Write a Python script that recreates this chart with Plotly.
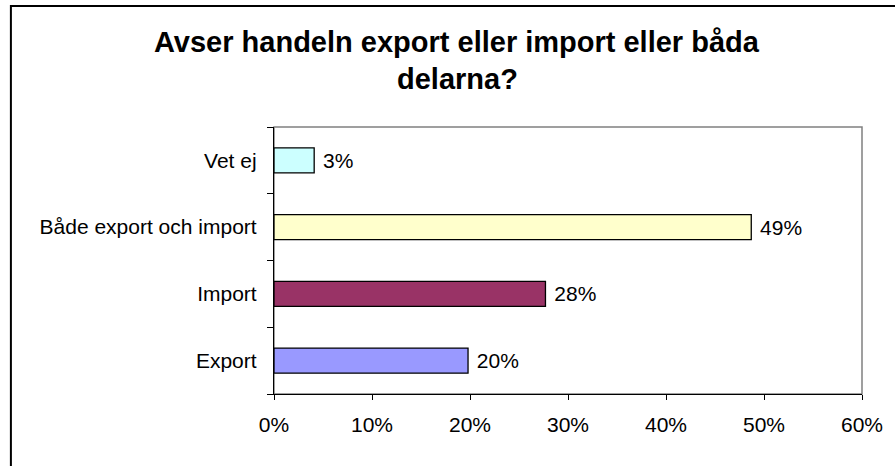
import plotly.graph_objects as go

categories = ["Export", "Import", "Både export och import", "Vet ej"]
values = [19.8, 27.7, 48.7, 4.1]
value_labels = ["20%", "28%", "49%", "3%"]
colors = ["#9999FF", "#993366", "#FFFFCC", "#CCFFFF"]
x_ticks = [0, 10, 20, 30, 40, 50, 60]
x_tick_labels = [f"{v}%" for v in x_ticks]
title_lines = ["Avser handeln export eller import eller båda", "delarna?"]

W, H = 895, 466
L, R, T, B = 274, 31, 127, 72
pw, ph = W - L - R, H - T - B
FONT = "Liberation Sans, Arial"

fig = go.Figure(go.Bar(
    y=categories, x=values, orientation="h",
    marker=dict(color=colors, line=dict(color="black", width=1.3)),
    text=[" " + t for t in value_labels], textposition="outside",
    textfont=dict(family=FONT, size=21, color="black"),
    cliponaxis=False, hoverinfo="skip",
))

def px_x(p):
    return (p - L) / pw

def px_y(p):
    return (H - B - p) / ph

annotations = [
    dict(text=f"<b>{line}</b>", xref="paper", yref="paper",
         x=px_x(458), y=px_y(yc), xanchor="center", yanchor="middle",
         showarrow=False, font=dict(family=FONT, size=29, color="black"))
    for line, yc in zip(title_lines, [42, 79])
]

fig.update_layout(
    width=W, height=H,
    margin=dict(l=L, r=R, t=T, b=B),
    paper_bgcolor="white", plot_bgcolor="white",
    showlegend=False, bargap=0.625,
    font=dict(family=FONT, size=21, color="black"),
    annotations=annotations,
    xaxis=dict(
        range=[0, 60], tickvals=x_ticks, ticktext=x_tick_labels,
        showgrid=False, zeroline=False, showline=True, linecolor="black", linewidth=1.3,
        ticks="outside", ticklen=5, tickcolor="black", tickwidth=1.3,
        ticklabelstandoff=7,
        tickfont=dict(size=21), fixedrange=True,
    ),
    yaxis=dict(
        categoryorder="array", categoryarray=categories,
        showgrid=False, showline=True, linecolor="black", linewidth=1.3,
        ticks="outside", ticklen=6, tickcolor="black", tickwidth=1.3,
        tickson="boundaries", ticklabelstandoff=12,
        tickfont=dict(size=21), fixedrange=True,
    ),
    shapes=[
        dict(type="rect", xref="paper", yref="paper", x0=0, y0=0, x1=1, y1=1,
             line=dict(color="#808080", width=1.5), layer="below"),
        dict(type="rect", xref="paper", yref="paper",
             x0=px_x(10), y0=px_y(470), x1=px_x(905), y1=px_y(6),
             line=dict(color="black", width=2), layer="below"),
    ],
)

fig.write_html(
    "out.html",
    config={"displayModeBar": False},
    post_script="document.body.style.margin='0';document.body.style.overflow='hidden';",
)
